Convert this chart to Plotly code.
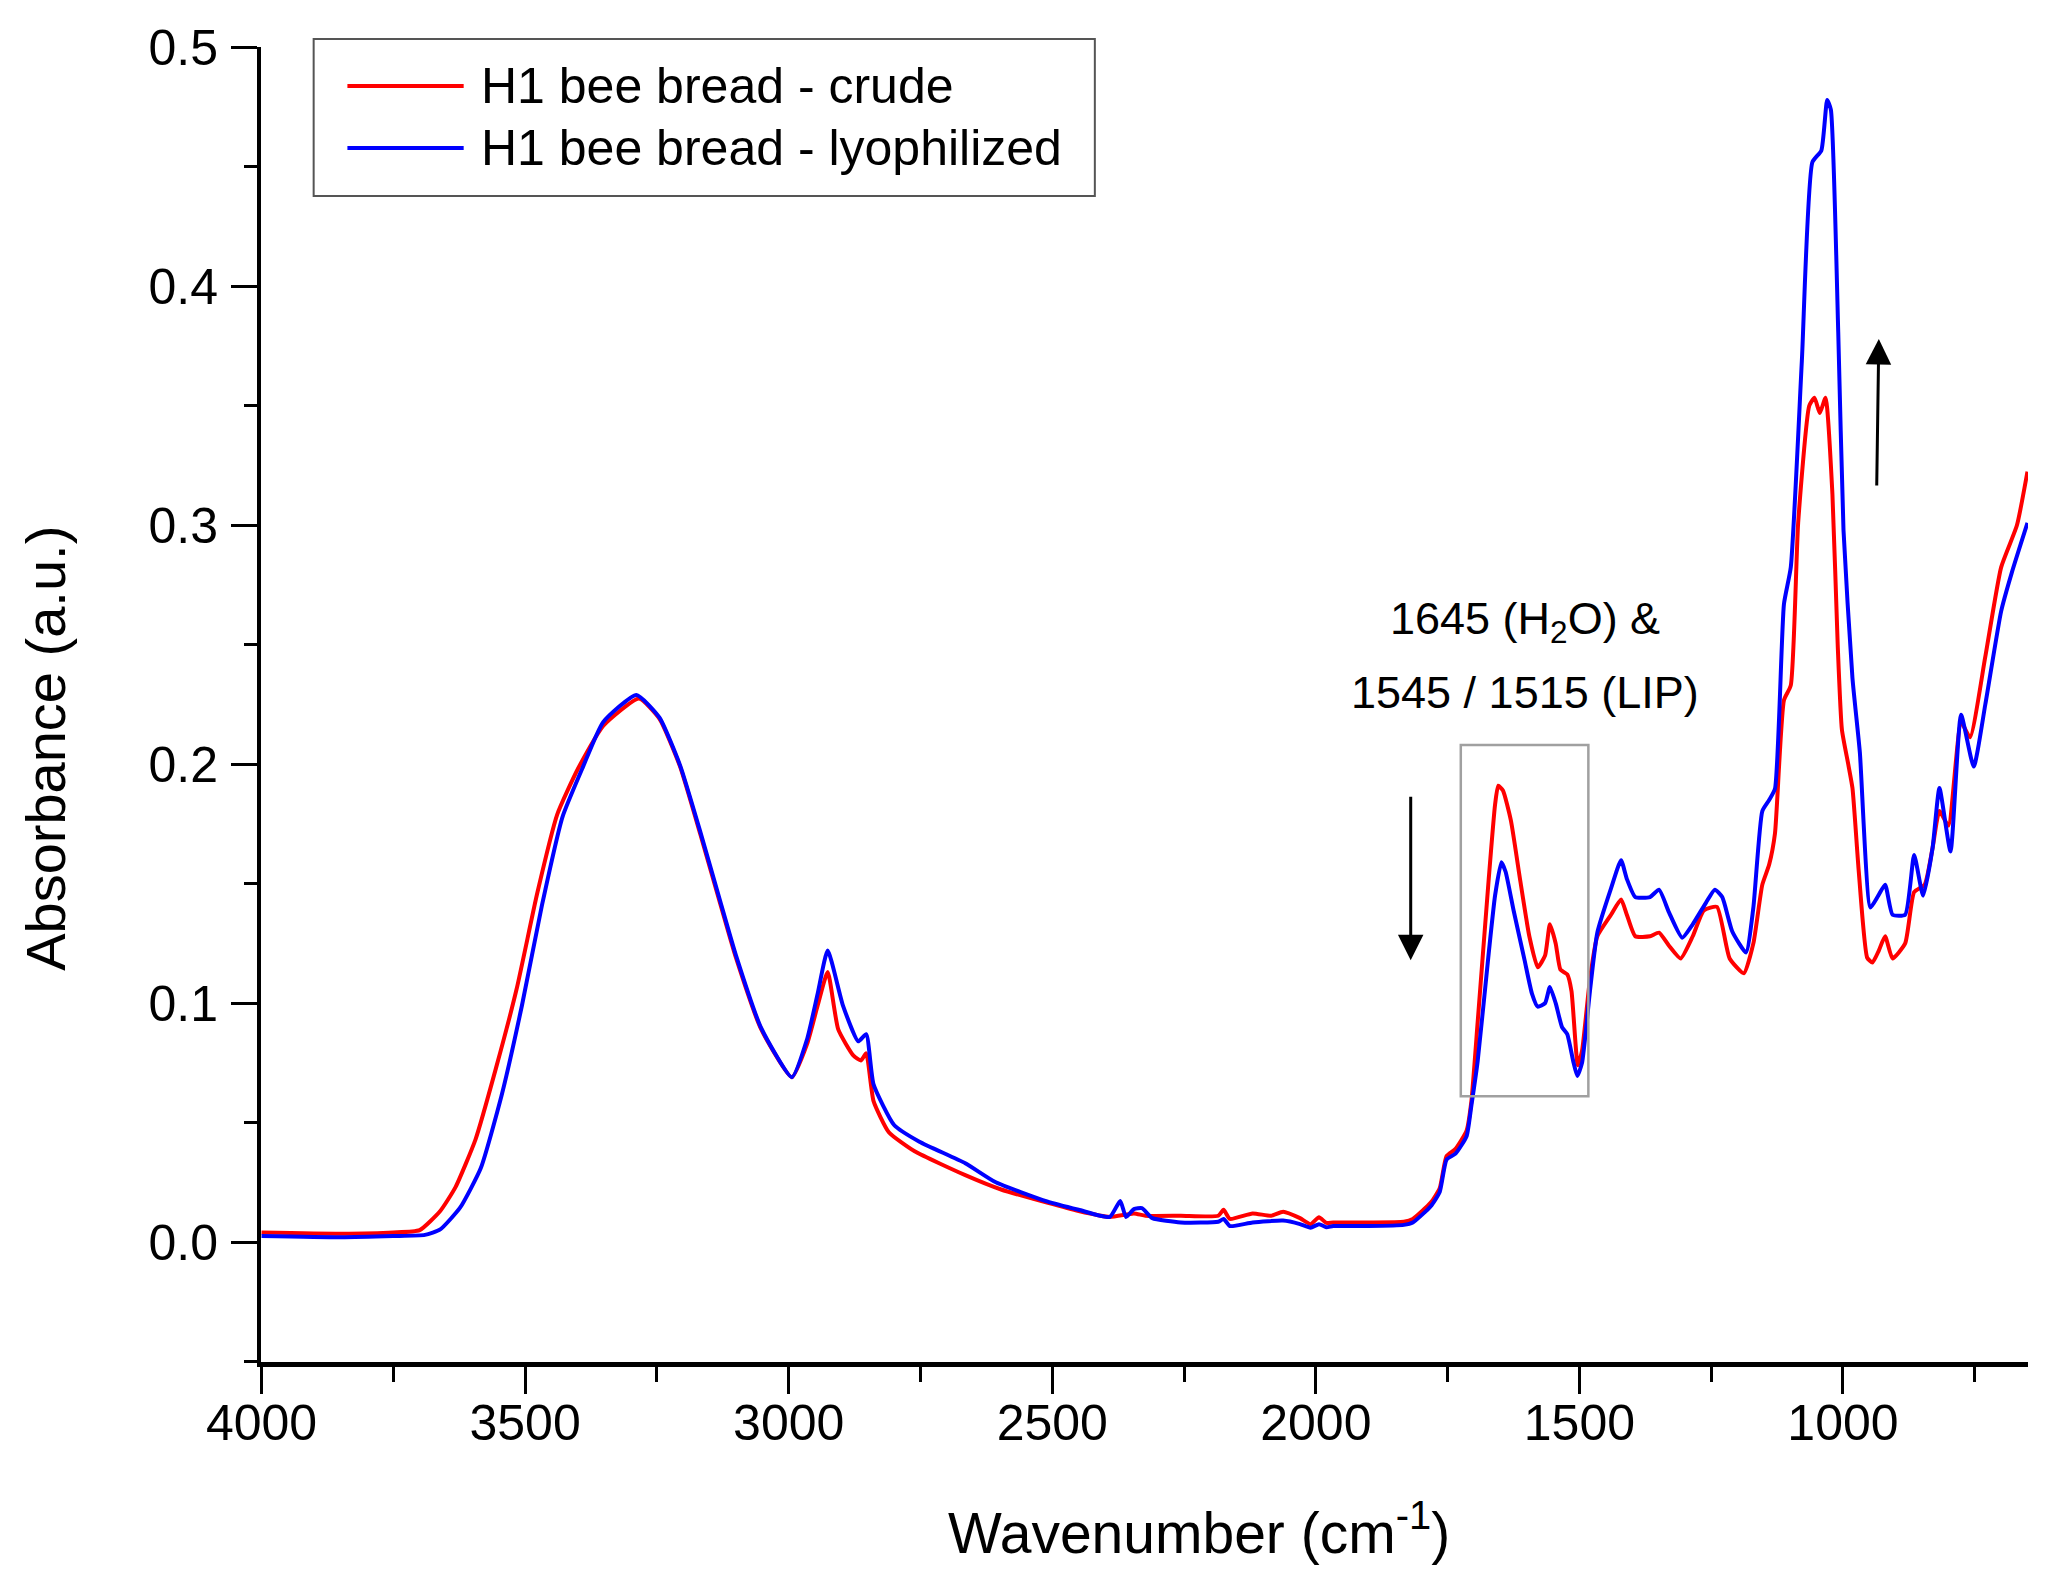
import plotly.graph_objects as go

# FTIR spectra (wavenumber in cm-1, absorbance in a.u.)
crude_wn = [4000, 3850, 3750, 3700, 3661, 3632, 3594, 3555, 3516, 3477, 3439, 3400, 3352, 3284,
            3245, 3206, 3168, 3129, 3100, 3052, 2994, 2965, 2945, 2926, 2906, 2877, 2863, 2853,
            2839, 2810, 2761, 2665, 2597, 2510, 2450, 2391, 2345, 2323, 2256, 2185, 2175, 2163,
            2120, 2085, 2062, 2030, 2010, 1994, 1980, 1967, 1900, 1833, 1816, 1782, 1765, 1752,
            1735, 1714, 1705, 1693, 1672, 1660, 1654, 1645, 1630, 1612, 1595, 1579, 1565, 1556,
            1545, 1536, 1523, 1515, 1503, 1495, 1480, 1466, 1440, 1421, 1410, 1394, 1366, 1349,
            1330, 1308, 1285, 1264, 1239, 1215, 1188, 1170, 1153, 1140, 1129, 1112, 1099, 1085,
            1064, 1054, 1044, 1033, 1020, 1010, 1002, 990, 982, 970, 954, 944, 932, 920, 906,
            882, 865, 845, 830, 817, 800, 776, 759, 730, 700, 670, 650]
crude_abs = [0.004, 0.0035, 0.004, 0.005, 0.013, 0.023, 0.043, 0.073, 0.106, 0.146, 0.179, 0.198,
             0.216, 0.2275, 0.219, 0.199, 0.171, 0.141, 0.119, 0.089, 0.069, 0.083, 0.099, 0.113,
             0.089, 0.078, 0.076, 0.079, 0.059, 0.046, 0.038, 0.028, 0.022, 0.0165, 0.013, 0.0105,
             0.012, 0.011, 0.011, 0.011, 0.0135, 0.0097, 0.012, 0.011, 0.0127, 0.010, 0.0075,
             0.0104, 0.008, 0.0082, 0.0082, 0.0085, 0.0097, 0.0165, 0.0225, 0.036, 0.039, 0.0466,
             0.0587, 0.092, 0.152, 0.183, 0.191, 0.189, 0.1765, 0.151, 0.128, 0.115, 0.120, 0.133,
             0.125, 0.114, 0.112, 0.105, 0.074, 0.080, 0.110, 0.128, 0.137, 0.1434, 0.137, 0.128,
             0.128, 0.1295, 0.124, 0.1187, 0.128, 0.1388, 0.1403, 0.1187, 0.1125, 0.125, 0.1496,
             0.158, 0.171, 0.2268, 0.233, 0.301, 0.350, 0.3534, 0.347, 0.3534, 0.313, 0.25, 0.2144,
             0.200, 0.19, 0.155, 0.119, 0.117, 0.122, 0.128, 0.1187, 0.125, 0.1465, 0.1496, 0.165,
             0.1804, 0.1743, 0.2175, 0.2113, 0.245, 0.2824, 0.300, 0.3225]

lyo_wn = [4000, 3850, 3750, 3690, 3661, 3623, 3584, 3545, 3506, 3468, 3429, 3390, 3352, 3289,
          3245, 3206, 3168, 3129, 3100, 3052, 2994, 2965, 2945, 2926, 2897, 2868, 2853, 2839,
          2800, 2752, 2665, 2607, 2510, 2450, 2391, 2371, 2360, 2345, 2330, 2310, 2256, 2185,
          2175, 2163, 2120, 2062, 2030, 2010, 1994, 1980, 1967, 1900, 1833, 1816, 1782, 1765,
          1752, 1735, 1714, 1705, 1693, 1672, 1660, 1648, 1640, 1625, 1604, 1590, 1579, 1565,
          1556, 1545, 1533, 1523, 1512, 1504, 1495, 1480, 1466, 1440, 1421, 1410, 1394, 1366,
          1349, 1330, 1305, 1285, 1260, 1243, 1229, 1210, 1184, 1170, 1153, 1140, 1129, 1112,
          1099, 1078, 1058, 1041, 1030, 1023, 1009, 999, 982, 968, 948, 933, 920, 906, 882, 865,
          848, 830, 817, 796, 776, 752, 730, 700, 680, 650]
lyo_abs = [0.0025, 0.002, 0.0025, 0.003, 0.0053, 0.0145, 0.031, 0.061, 0.099, 0.141, 0.178, 0.199,
           0.2176, 0.229, 0.2195, 0.1995, 0.172, 0.142, 0.120, 0.0895, 0.069, 0.085, 0.104, 0.122,
           0.099, 0.084, 0.087, 0.066, 0.049, 0.042, 0.033, 0.025, 0.017, 0.0135, 0.0105, 0.0172,
           0.0105, 0.0138, 0.0142, 0.010, 0.0082, 0.0085, 0.0097, 0.0067, 0.0082, 0.009, 0.0075,
           0.006, 0.0075, 0.0062, 0.0067, 0.0067, 0.0072, 0.0082, 0.015, 0.021, 0.0345, 0.037,
           0.0443, 0.057, 0.0757, 0.121, 0.145, 0.159, 0.155, 0.139, 0.118, 0.104, 0.0985, 0.100,
           0.1068, 0.100, 0.090, 0.087, 0.076, 0.0695, 0.075, 0.105, 0.1295, 0.148, 0.1598, 0.152,
           0.1444, 0.1444, 0.1475, 0.138, 0.1274, 0.133, 0.142, 0.1475, 0.1444, 0.130, 0.1212,
           0.140, 0.1804, 0.185, 0.1897, 0.267, 0.2824, 0.3688, 0.452, 0.4569, 0.478, 0.474, 0.381,
           0.298, 0.236, 0.205, 0.140, 0.145, 0.1496, 0.137, 0.137, 0.162, 0.145, 0.165, 0.190,
           0.1635, 0.2207, 0.199, 0.225, 0.264, 0.280, 0.301]

series_names = ["H1 bee bread - crude", "H1 bee bread - lyophilized"]
series_colors = ["#ff0000", "#0000ff"]

FONT = "Liberation Sans"

fig = go.Figure()
fig.add_trace(go.Scatter(x=crude_wn, y=crude_abs, mode="lines", name=series_names[0],
                         line=dict(color=series_colors[0], width=4, shape="spline", smoothing=0.5)))
fig.add_trace(go.Scatter(x=lyo_wn, y=lyo_abs, mode="lines", name=series_names[1],
                         line=dict(color=series_colors[1], width=4, shape="spline", smoothing=0.5)))

fig.update_layout(
    width=2057, height=1585,
    margin=dict(l=253, r=37, t=39, b=231),
    paper_bgcolor="white", plot_bgcolor="white",
    font=dict(family=FONT, color="black"),
    showlegend=False,
)

fig.update_xaxes(
    range=[4001, 649], showline=True, linecolor="black", linewidth=5,
    showgrid=False, zeroline=False,
    ticks="outside", ticklen=27, tickwidth=3, tickcolor="black",
    tick0=0, dtick=500, tickformat="d", tickfont=dict(size=50), ticklabelstandoff=-14,
    minor=dict(dtick=250, ticks="outside", ticklen=15, tickwidth=3, tickcolor="black"),
    automargin=False,
)
fig.update_yaxes(
    range=[-0.0502, 0.5002], showline=True, linecolor="black", linewidth=4,
    showgrid=False, zeroline=False,
    ticks="outside", ticklen=26, tickwidth=3, tickcolor="black",
    tick0=0, dtick=0.1, tickformat=".1f", tickfont=dict(size=50), ticklabelstandoff=3,
    minor=dict(dtick=0.05, ticks="outside", ticklen=13, tickwidth=3, tickcolor="black"),
    automargin=False,
)

# axis titles sit a little off-centre in the original, so place them by hand
fig.add_annotation(text="Wavenumber (cm<sup>-1</sup>)", xref="paper", yref="paper",
                   x=0.531, y=-0.127, xanchor="center", yanchor="middle",
                   showarrow=False, font=dict(size=57))
fig.add_annotation(text="Absorbance (a.u.)", xref="paper", yref="paper", textangle=-90,
                   x=-0.1217, y=0.467, xanchor="center", yanchor="middle",
                   showarrow=False, font=dict(size=56))

# hand-drawn legend box with long line samples, as in the original
lg_y = [0.9703, 0.9232]
fig.add_shape(type="rect", xref="paper", yref="paper", x0=0.0298, x1=0.4719, y0=0.8867, y1=1.0061,
              line=dict(color="#555555", width=2), fillcolor="white")
for name, color, yy in zip(series_names, series_colors, lg_y):
    fig.add_shape(type="line", xref="paper", yref="paper", x0=0.0489, x1=0.1147, y0=yy, y1=yy,
                  line=dict(color=color, width=4))
    fig.add_annotation(text=name, xref="paper", yref="paper", x=0.1232, y=yy,
                       xanchor="left", yanchor="middle", showarrow=False, font=dict(size=50))

# boxed region and band labels
fig.add_shape(type="rect", xref="x", yref="y", x0=1725, x1=1483, y0=0.061, y1=0.208,
              line=dict(color="#a0a0a0", width=2.5))
fig.add_annotation(text="1645 (H<sub>2</sub>O) &amp;", x=1604, y=0.2598, xref="x", yref="y",
                   showarrow=False, font=dict(size=45))
fig.add_annotation(text="1545 / 1515 (LIP)", x=1604, y=0.230, xref="x", yref="y",
                   showarrow=False, font=dict(size=45))

# arrows: water band goes down, carbohydrate band goes up
fig.add_annotation(text="", x=1820, y=0.118, ax=1820, ay=0.187, xref="x", yref="y",
                   axref="x", ayref="y", showarrow=True, arrowhead=2, arrowsize=1.7,
                   arrowwidth=3, arrowcolor="black")
fig.add_annotation(text="", x=932, y=0.378, ax=936, ay=0.316, xref="x", yref="y",
                   axref="x", ayref="y", showarrow=True, arrowhead=2, arrowsize=1.7,
                   arrowwidth=3, arrowcolor="black")

fig.write_html("out.html")
